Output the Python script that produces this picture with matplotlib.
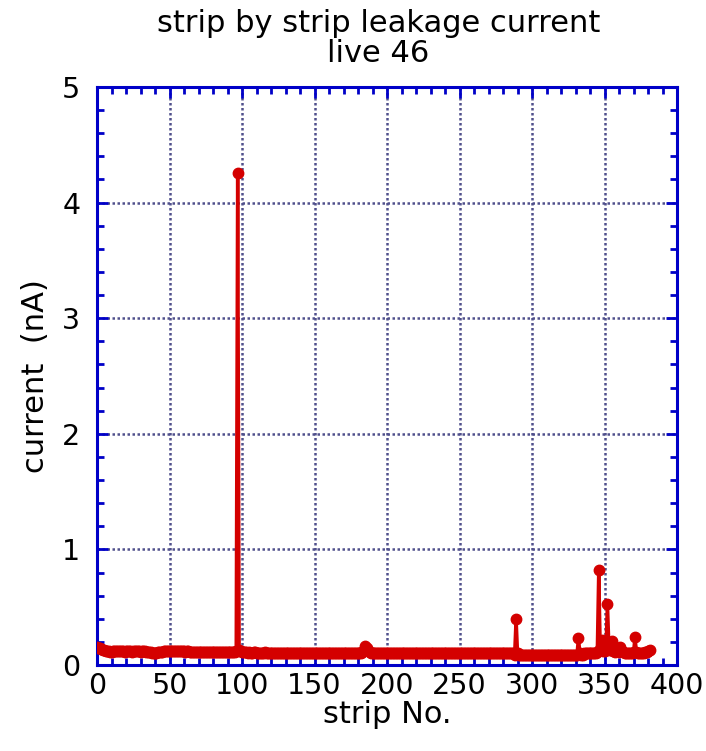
import matplotlib
matplotlib.use("Agg")
import matplotlib.pyplot as plt
from matplotlib.ticker import MultipleLocator

# leakage current per strip (nA), strips 0..381
current = [
    0.16, 0.15, 0.15, 0.14, 0.13, 0.13, 0.12, 0.12, 0.12, 0.11, 0.11, 0.12, 0.12, 0.12, 0.12, 0.12,
    0.12, 0.12, 0.12, 0.11, 0.12, 0.12, 0.12, 0.12, 0.11, 0.12, 0.12, 0.12, 0.12, 0.12, 0.11, 0.12,
    0.12, 0.12, 0.11, 0.11, 0.11, 0.11, 0.10, 0.10, 0.10, 0.10, 0.11, 0.11, 0.11, 0.11, 0.12, 0.12,
    0.12, 0.12, 0.12, 0.12, 0.12, 0.12, 0.12, 0.12, 0.12, 0.12, 0.12, 0.12, 0.12, 0.11, 0.12, 0.12,
    0.11, 0.11, 0.11, 0.11, 0.11, 0.11, 0.11, 0.11, 0.11, 0.11, 0.11, 0.11, 0.11, 0.11, 0.11, 0.11,
    0.11, 0.11, 0.11, 0.11, 0.11, 0.11, 0.11, 0.11, 0.11, 0.11, 0.11, 0.11, 0.11, 0.11, 0.11, 0.11,
    0.12, 4.26, 0.13, 0.12, 0.11, 0.11, 0.11, 0.11, 0.10, 0.11, 0.10, 0.10, 0.11, 0.11, 0.10, 0.10,
    0.10, 0.10, 0.10, 0.10, 0.11, 0.10, 0.10, 0.10, 0.10, 0.10, 0.10, 0.10, 0.10, 0.10, 0.10, 0.10,
    0.10, 0.10, 0.10, 0.10, 0.10, 0.10, 0.10, 0.10, 0.10, 0.10, 0.10, 0.10, 0.10, 0.10, 0.10, 0.10,
    0.10, 0.10, 0.10, 0.10, 0.10, 0.10, 0.10, 0.10, 0.10, 0.10, 0.10, 0.10, 0.10, 0.10, 0.10, 0.10,
    0.10, 0.10, 0.10, 0.10, 0.10, 0.10, 0.10, 0.10, 0.10, 0.10, 0.10, 0.10, 0.10, 0.10, 0.10, 0.10,
    0.10, 0.10, 0.10, 0.10, 0.10, 0.10, 0.10, 0.11, 0.13, 0.165, 0.15, 0.12, 0.11, 0.10, 0.10, 0.10,
    0.10, 0.10, 0.10, 0.10, 0.10, 0.10, 0.10, 0.10, 0.10, 0.10, 0.10, 0.10, 0.10, 0.10, 0.10, 0.10,
    0.10, 0.10, 0.10, 0.10, 0.10, 0.10, 0.10, 0.10, 0.10, 0.10, 0.10, 0.10, 0.10, 0.10, 0.10, 0.10,
    0.10, 0.10, 0.10, 0.10, 0.10, 0.10, 0.10, 0.10, 0.10, 0.10, 0.10, 0.10, 0.10, 0.10, 0.10, 0.10,
    0.10, 0.10, 0.10, 0.10, 0.10, 0.10, 0.10, 0.10, 0.10, 0.10, 0.10, 0.10, 0.10, 0.10, 0.10, 0.10,
    0.10, 0.10, 0.10, 0.10, 0.10, 0.10, 0.10, 0.10, 0.10, 0.10, 0.10, 0.10, 0.10, 0.10, 0.10, 0.10,
    0.10, 0.10, 0.10, 0.10, 0.10, 0.10, 0.10, 0.10, 0.10, 0.10, 0.10, 0.10, 0.10, 0.10, 0.10, 0.10,
    0.09, 0.40, 0.10, 0.09, 0.09, 0.09, 0.09, 0.09, 0.09, 0.09, 0.09, 0.09, 0.09, 0.09, 0.09, 0.09,
    0.09, 0.09, 0.09, 0.09, 0.09, 0.09, 0.09, 0.09, 0.09, 0.09, 0.09, 0.09, 0.09, 0.09, 0.09, 0.09,
    0.09, 0.09, 0.09, 0.09, 0.09, 0.09, 0.09, 0.09, 0.09, 0.09, 0.09, 0.09, 0.235, 0.10, 0.09, 0.09,
    0.10, 0.10, 0.10, 0.10, 0.10, 0.10, 0.10, 0.10, 0.10, 0.11, 0.82, 0.14, 0.22, 0.12, 0.12, 0.15,
    0.53, 0.15, 0.13, 0.21, 0.12, 0.11, 0.14, 0.12, 0.11, 0.16, 0.12, 0.11, 0.10, 0.10, 0.10, 0.10,
    0.10, 0.10, 0.11, 0.24, 0.11, 0.10, 0.10, 0.10, 0.10, 0.10, 0.11, 0.11, 0.12, 0.13,
]
strips = list(range(len(current)))

fig = plt.figure(figsize=(7.06, 7.51), dpi=100)
ax = fig.add_axes([0.1374, 0.1145, 0.8216, 0.7697])

blue = "#0000c8"
ax.plot(strips, current, color="#d40000", lw=2.5, marker="o", ms=7.5, zorder=3)

ax.set_xlim(0, 400)
ax.set_ylim(0, 5)
ax.xaxis.set_major_locator(MultipleLocator(50))
ax.xaxis.set_minor_locator(MultipleLocator(10))
ax.yaxis.set_major_locator(MultipleLocator(1))
ax.yaxis.set_minor_locator(MultipleLocator(0.2))

ax.grid(True, which="major", color="#50508c", linestyle=(0, (1, 1)), lw=1.8, zorder=1)
for s in ax.spines.values():
    s.set_color(blue)
    s.set_linewidth(2.2)
ax.tick_params(which="both", direction="in", top=True, right=True, color=blue, labelsize=20.5)
ax.tick_params(axis="x", pad=5)
ax.tick_params(axis="y", pad=12)
ax.tick_params(which="major", length=8, width=2)
ax.tick_params(which="minor", length=5, width=2)

ax.set_xlabel("strip No.", fontsize=22, labelpad=0)
ax.set_ylabel("current  (nA)", fontsize=22, labelpad=9)

# two-line title, tighter spacing than matplotlib's default
fig.text(0.536, 0.958, "strip by strip leakage current", fontsize=22, ha="center", va="baseline")
fig.text(0.536, 0.917, "live 46", fontsize=22, ha="center", va="baseline")

fig.savefig("out.png", dpi=100)
